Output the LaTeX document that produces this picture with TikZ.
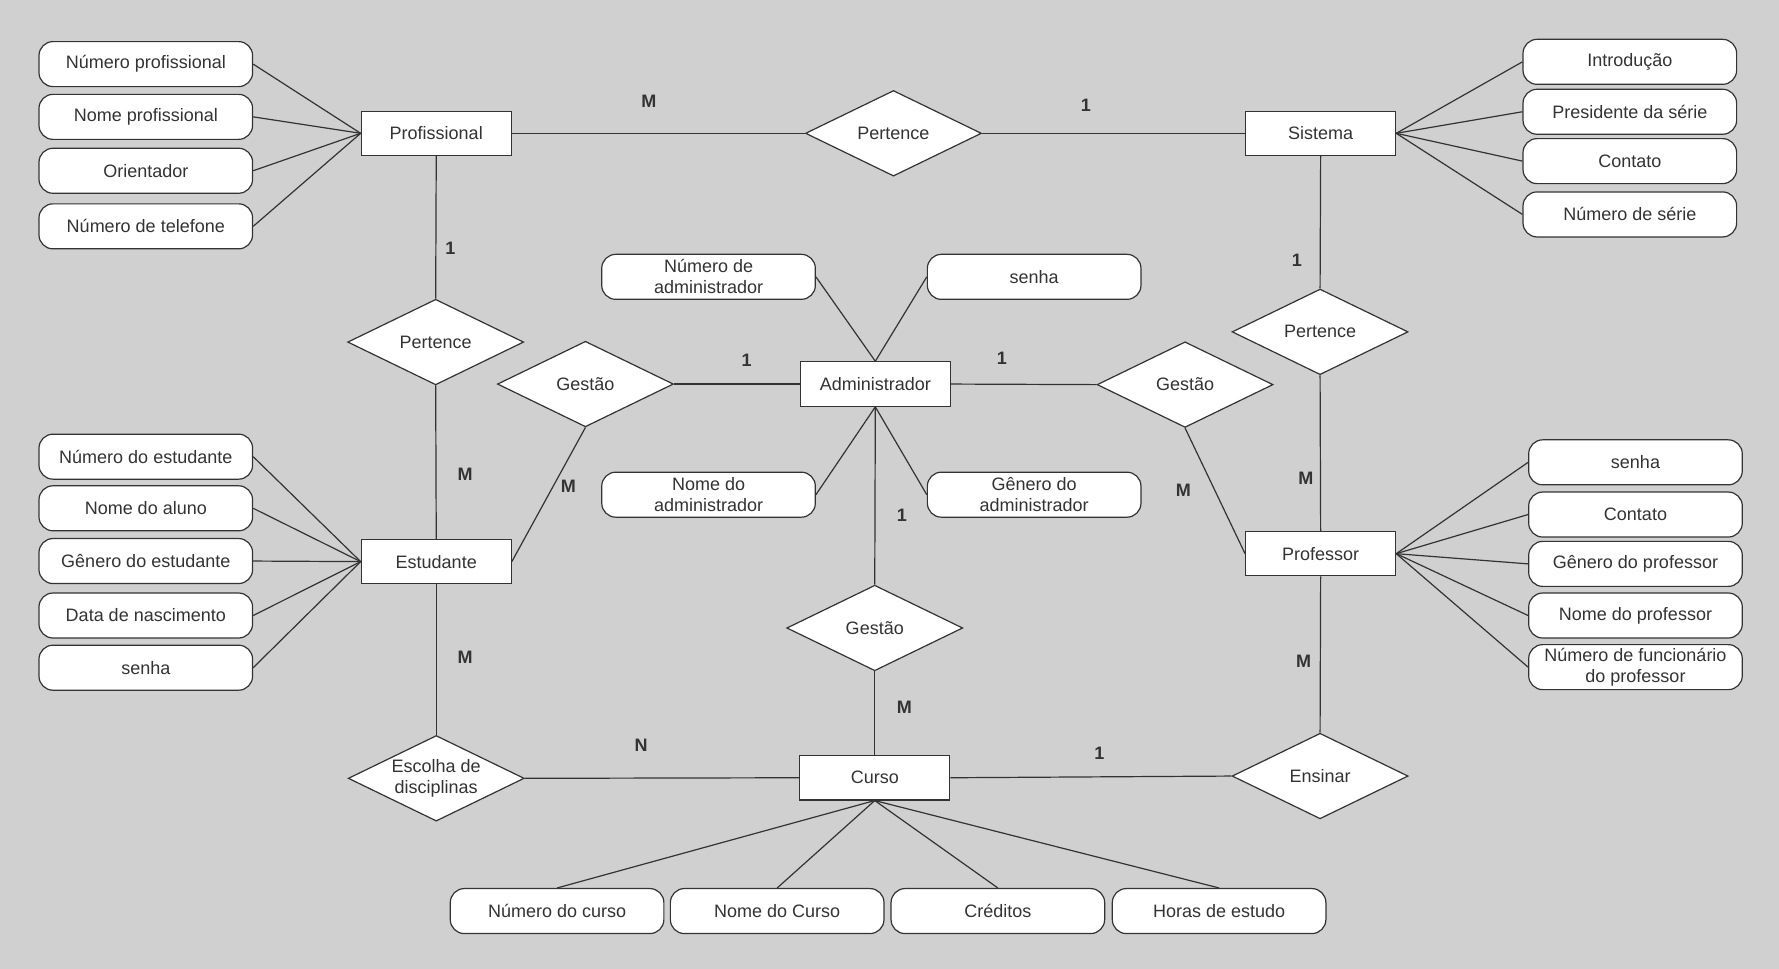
\documentclass[tikz,border=0pt]{standalone}
\usepackage{fontspec}
\setmainfont{Liberation Sans}
\usetikzlibrary{shapes.geometric}
\definecolor{paper}{HTML}{D0D0D0}
\definecolor{ink}{HTML}{333333}

\begin{document}
\begin{tikzpicture}[x=0.5673pt,y=-0.5673pt,font=\fontsize{9}{10.6}\selectfont,
  entity/.style={draw=ink,fill=white,line width=.6pt,minimum width=75pt,minimum height=22.2pt,inner sep=1pt,text=ink},
  attr/.style={draw=ink,fill=white,line width=.6pt,rounded corners=7pt,minimum width=106.8pt,minimum height=22.5pt,inner sep=1pt,align=center,text=ink},
  rel/.style={draw=ink,fill=white,line width=.6pt,diamond,aspect=2,minimum width=88pt,minimum height=42.8pt,inner sep=0pt,align=center,text=ink},
  link/.style={draw=ink,line width=.6pt},
  card/.style={font=\fontsize{9}{10.6}\selectfont\bfseries,text=ink,inner sep=0pt}]
\fill[paper] (0,0) rectangle (1568,854);
\useasboundingbox (0,0) rectangle (1568,854);
% entities
\node[entity] (prof) at (384.5,117.5) {Profissional};
\node[entity] (sist) at (1164,117.5) {Sistema};
\node[entity] (adm) at (771.5,338.5) {Administrador};
\node[entity] (est) at (384.5,495) {Estudante};
\node[entity] (profe) at (1164,488) {Professor};
\node[entity] (curso) at (771,685.5) {Curso};
% relations
\node[rel] (pertTop) at (787.5,117.5) {Pertence};
\node[rel] (pertL) at (384,301.5) {Pertence};
\node[rel] (pertR) at (1163.5,292.5) {Pertence};
\node[rel] (gestL) at (516,338.5) {Gestão};
\node[rel] (gestR) at (1044.5,339) {Gestão};
\node[rel] (gestB) at (771,553.5) {Gestão};
\node[rel] (escolha) at (384.5,686) {Escolha de\\disciplinas};
\node[rel] (ensinar) at (1163.5,684) {Ensinar};
% attributes of Profissional
\node[attr] (pa1) at (128.5,56.5) {Número profissional};
\node[attr] (pa2) at (128.5,103) {Nome profissional};
\node[attr] (pa3) at (128.5,150.5) {Orientador};
\node[attr] (pa4) at (128.5,199.5) {Número de telefone};
% attributes of Sistema
\node[attr] (sa1) at (1436.5,54.5) {Introdução};
\node[attr] (sa2) at (1436.5,98.5) {Presidente da série};
\node[attr] (sa3) at (1436.5,142) {Contato};
\node[attr] (sa4) at (1436.5,189) {Número de série};
% attributes of Administrador
\node[attr] (aa1) at (624.5,244) {Número de\\administrador};
\node[attr] (aa2) at (911.5,244) {senha};
\node[attr] (aa3) at (624.5,436) {Nome do\\administrador};
\node[attr] (aa4) at (911.5,436) {Gênero do\\administrador};
% attributes of Estudante
\node[attr] (ea1) at (128.5,402.5) {Número do estudante};
\node[attr] (ea2) at (128.5,448) {Nome do aluno};
\node[attr] (ea3) at (128.5,494.5) {Gênero do estudante};
\node[attr] (ea4) at (128.5,542.5) {Data de nascimento};
\node[attr] (ea5) at (128.5,588.5) {senha};
% attributes of Professor
\node[attr] (ra1) at (1441.5,407.5) {senha};
\node[attr] (ra2) at (1441.5,453.5) {Contato};
\node[attr] (ra3) at (1441.5,497) {Gênero do professor};
\node[attr] (ra4) at (1441.5,542.5) {Nome do professor};
\node[attr] (ra5) at (1441.5,588) {Número de funcionário\\do professor};
% attributes of Curso
\node[attr] (ca1) at (491,803) {Número do curso};
\node[attr] (ca2) at (685,803) {Nome do Curso};
\node[attr] (ca3) at (879.5,803) {Créditos};
\node[attr] (ca4) at (1074.5,803) {Horas de estudo};
% relationship links
\draw[link] (prof.east) -- (pertTop.west);
\draw[link] (pertTop.east) -- (sist.west);
\draw[link] (prof.south) -- (pertL.north);
\draw[link] (pertL.south) -- (est.north);
\draw[link] (sist.south) -- (pertR.north);
\draw[link] (pertR.south) -- (profe.north);
\draw[link] (gestL.east) -- (adm.west);
\draw[link] (gestL.south) -- (est.east);
\draw[link] (adm.east) -- (gestR.west);
\draw[link] (gestR.south) -- (profe.west);
\draw[link] (adm.south) -- (gestB.north);
\draw[link] (gestB.south) -- (curso.north);
\draw[link] (est.south) -- (escolha.north);
\draw[link] (escolha.east) -- (curso.west);
\draw[link] (curso.east) -- (ensinar.west);
\draw[link] (profe.south) -- (ensinar.north);
% attribute links
\draw[link] (pa1.east) -- (prof.west);
\draw[link] (pa2.east) -- (prof.west);
\draw[link] (pa3.east) -- (prof.west);
\draw[link] (pa4.east) -- (prof.west);
\draw[link] (sist.east) -- (sa1.west);
\draw[link] (sist.east) -- (sa2.west);
\draw[link] (sist.east) -- (sa3.west);
\draw[link] (sist.east) -- (sa4.west);
\draw[link] (aa1.east) -- (adm.north);
\draw[link] (aa2.west) -- (adm.north);
\draw[link] (adm.south) -- (aa3.east);
\draw[link] (adm.south) -- (aa4.west);
\draw[link] (ea1.east) -- (est.west);
\draw[link] (ea2.east) -- (est.west);
\draw[link] (ea3.east) -- (est.west);
\draw[link] (ea4.east) -- (est.west);
\draw[link] (ea5.east) -- (est.west);
\draw[link] (profe.east) -- (ra1.west);
\draw[link] (profe.east) -- (ra2.west);
\draw[link] (profe.east) -- (ra3.west);
\draw[link] (profe.east) -- (ra4.west);
\draw[link] (profe.east) -- (ra5.west);
\draw[link] (curso.south) -- (ca1.north);
\draw[link] (curso.south) -- (ca2.north);
\draw[link] (curso.south) -- (ca3.north);
\draw[link] (curso.south) -- (ca4.north);
% cardinalities
\node[card] (cProfTop) at (572,89) {M};
\node[card] (cSistTop) at (957,93) {1};
\node[card] (cProfL) at (397,219) {1};
\node[card] (cEstL) at (410,418) {M};
\node[card] (cSistR) at (1143,229) {1};
\node[card] (cProfeR) at (1151,422) {M};
\node[card] (cAdmL) at (658,318) {1};
\node[card] (cEstG) at (501,429) {M};
\node[card] (cAdmR) at (883,316) {1};
\node[card] (cProfeG) at (1043,432) {M};
\node[card] (cAdmB) at (795,454) {1};
\node[card] (cCursoB) at (797,623) {M};
\node[card] (cEstB) at (410,579) {M};
\node[card] (cCursoL) at (565,657) {N};
\node[card] (cCursoR) at (969,664) {1};
\node[card] (cProfeB) at (1149,583) {M};
\end{tikzpicture}
\end{document}
